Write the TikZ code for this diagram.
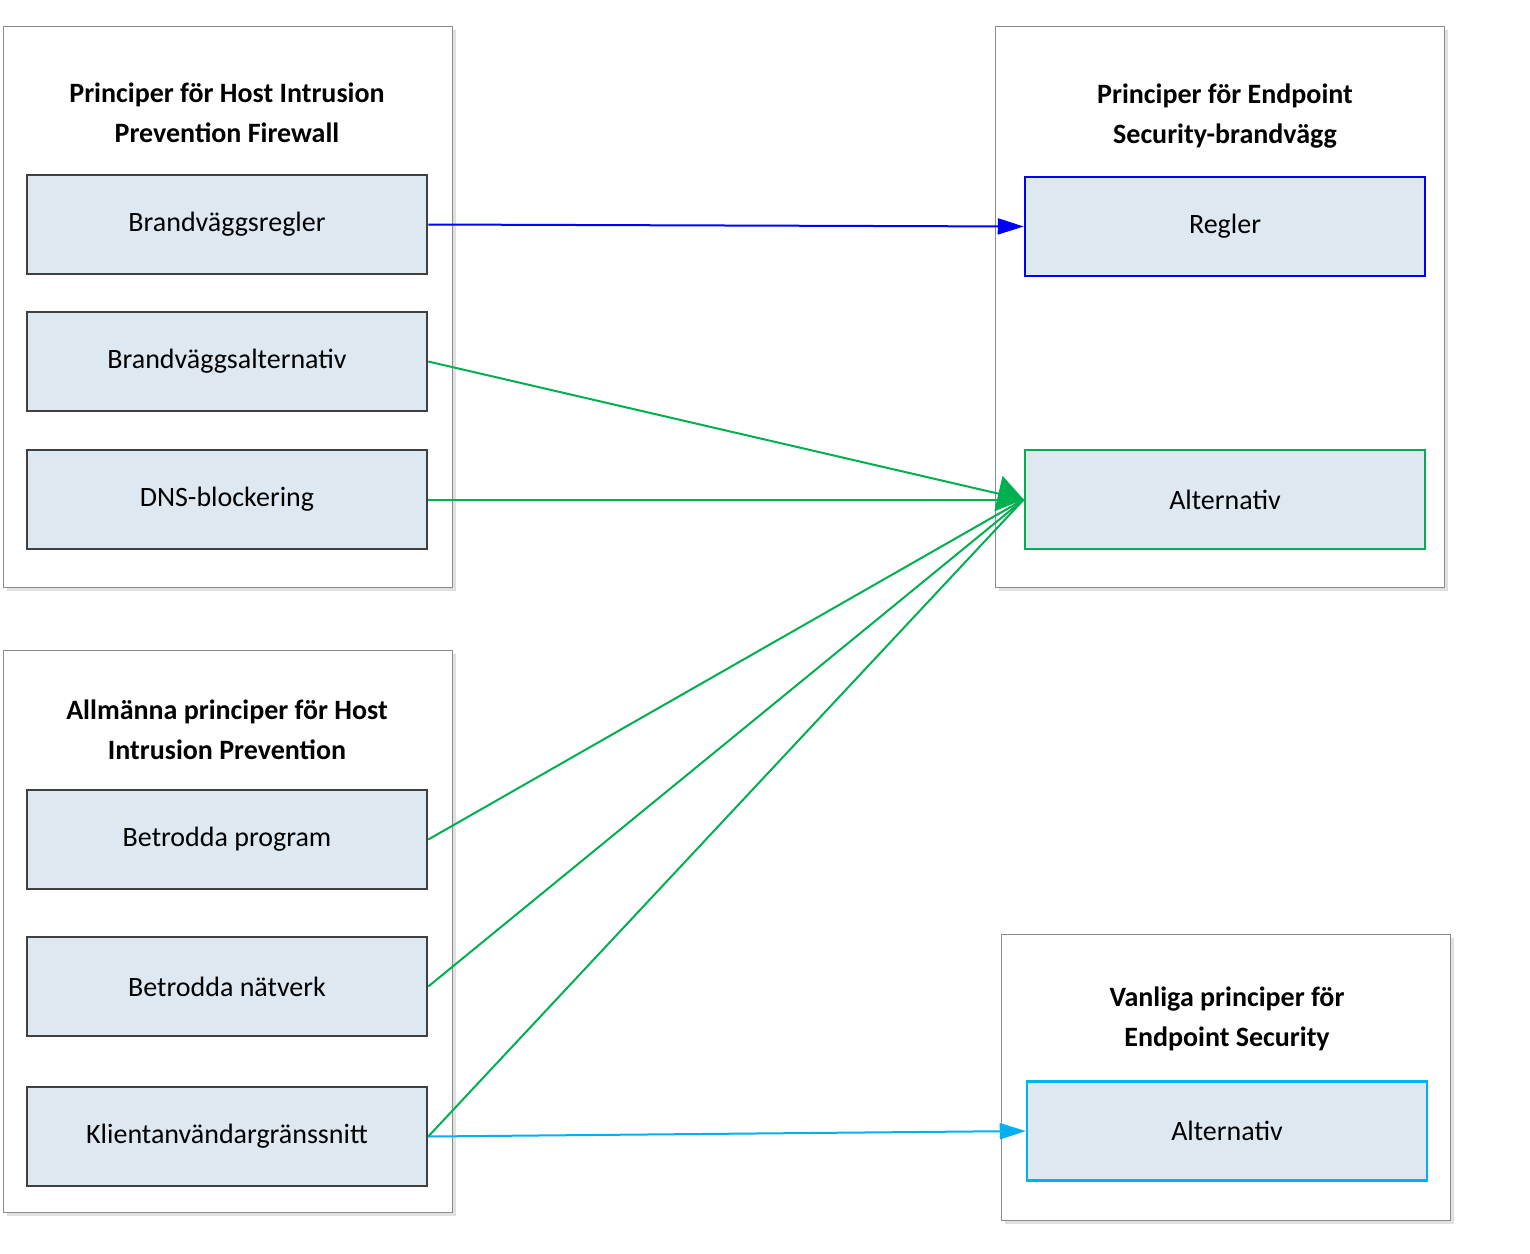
\documentclass[tikz,border=0pt]{standalone}
\usepackage{fontspec}
\setmainfont{Carlito}
\usetikzlibrary{arrows.meta}
\begin{document}
\begin{tikzpicture}[x=1pt,y=-1pt,
 outer/.style={draw=black!45,line width=1pt,fill=white},
 inner/.style={draw=black!75,line width=2.5pt,fill=blue!8!cyan!5!white,minimum width=400pt,minimum height=99pt,inner sep=0pt,font=\fontsize{28}{30}\selectfont},
 ttl/.style={align=center,font=\bfseries\fontsize{28}{40}\selectfont},
 con/.style={line width=2pt}]
\useasboundingbox (0,0) rectangle (1530,1253);
\definecolor{fillc}{HTML}{DEE8F1}
\definecolor{gr}{HTML}{00B050}
\definecolor{cy}{HTML}{00B0F0}
\tikzset{inner/.append style={fill=fillc}}
\foreach \a/\b/\c/\d in {3/26/452/587,995/26/1444/587,3/650/452/1212,1001/934/1450/1220}{
 \fill[black!12] (\a+4,\b+4) rectangle (\c+4,\d+4);
 \draw[outer] (\a,\b) rectangle (\c,\d);}
\node[ttl] (t1) at (227,113) {Principer för Host Intrusion\\Prevention Firewall};
\node[ttl] (t2) at (1225,116) {Principer för Endpoint\\Security-brandvägg};
\node[ttl] (t3) at (227,730) {Allmänna principer för Host\\Intrusion Prevention};
\node[ttl] (t4) at (1227,1019) {Vanliga principer för\\Endpoint Security};
\node[inner] (a) at (227,224.5) {Brandväggsregler};
\node[inner] (b) at (227,361.5) {Brandväggsalternativ};
\node[inner] (c) at (227,499.5) {DNS-blockering};
\node[inner] (d) at (227,839.5) {Betrodda program};
\node[inner] (e) at (227,986.5) {Betrodda nätverk};
\node[inner] (f) at (227,1136.5) {Klientanvändargränssnitt};
\node[inner,draw=blue] (r) at (1225,226.5) {Regler};
\node[inner,draw=gr] (g) at (1225,499.5) {Alternativ};
\node[inner,draw=cy] (h) at (1227,1131) {Alternativ};
\draw[con,blue,-{Triangle[length=26pt,width=16pt]}] (a.east) -- (r.west);
\draw[con,gr,-{Triangle[length=26pt,width=36pt]}] (b.east) -- (g.west);
\foreach \n in {c,d,e,f} \draw[con,gr] (\n.east) -- (g.west);
\draw[con,cy,-{Triangle[length=26pt,width=16pt]}] (f.east) -- (h.west);
\end{tikzpicture}
\end{document}
